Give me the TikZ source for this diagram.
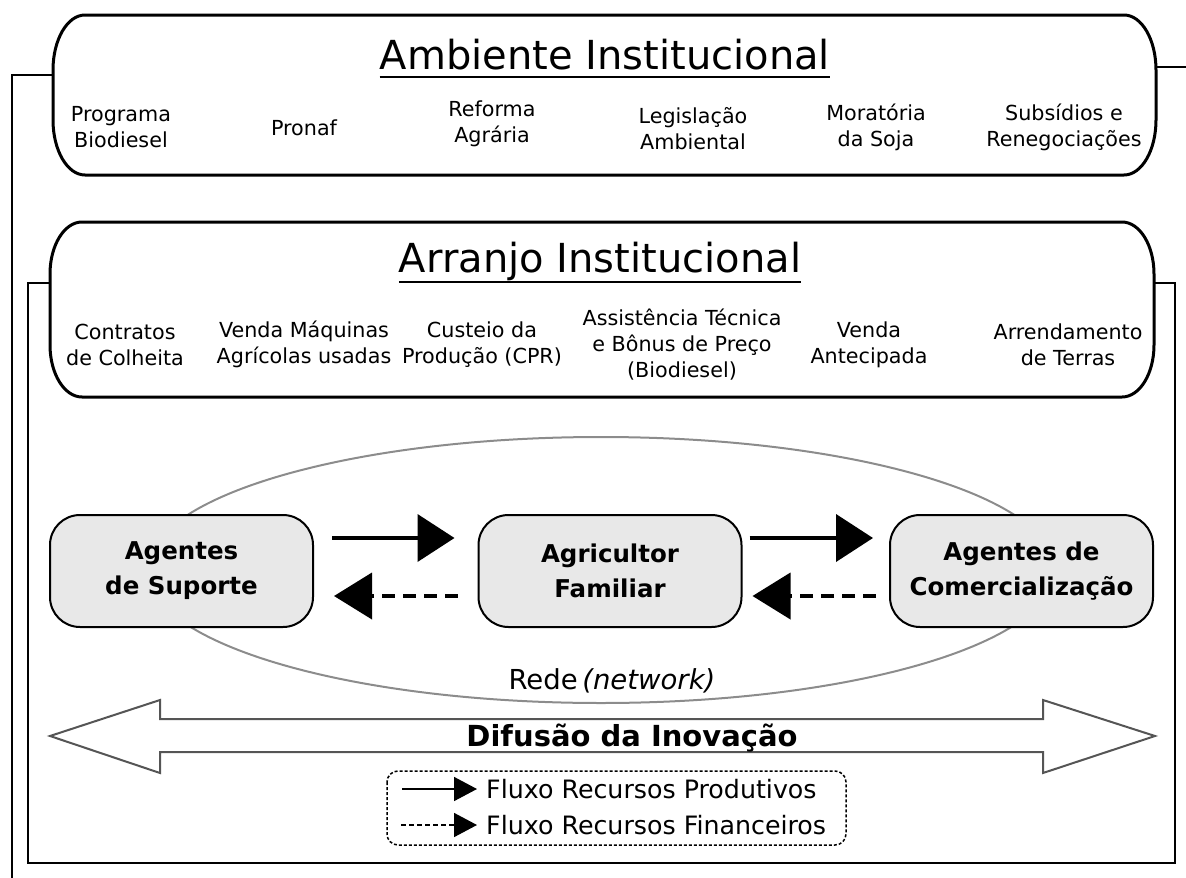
\documentclass[tikz,border=0pt]{standalone}
\usepackage{fontspec}
\setmainfont{DejaVu Sans}
\usetikzlibrary{arrows.meta}
\newcommand\mlines[1]{\begin{tabular}[t]{@{}c@{}}#1\end{tabular}}
\definecolor{agentfill}{HTML}{E8E8E8}
\definecolor{ellgray}{HTML}{8C8C8C}
\definecolor{arrgray}{HTML}{555555}
\begin{document}
\begin{tikzpicture}[x=1pt,y=-1pt,
  frame/.style={line width=2pt,black},
  bigbox/.style={line width=3pt,black,fill=white},
  titletext/.style={font=\fontsize{40}{48}\selectfont,anchor=base,inner sep=0pt},
  item/.style={font=\fontsize{20.7}{26}\selectfont,anchor=base,inner sep=0pt},
  agent/.style={draw=black,line width=2pt,fill=agentfill,rounded corners=30pt,
    minimum width=263pt,minimum height=112pt,align=center,
    font=\fontsize{24.5}{35}\selectfont\bfseries},
  flowsolid/.style={line width=4pt,-{Triangle[length=37pt,width=47pt]}},
  flowdash/.style={line width=4pt,dash pattern=on 13pt off 8pt,-{Triangle[length=38pt,width=46pt]}},
  legsolid/.style={line width=1.6pt,-{Triangle[length=23pt,width=24pt]}},
  legdash/.style={line width=1.6pt,dash pattern=on 5pt off 3pt,-{Triangle[length=23pt,width=24pt]}},
  legtext/.style={font=\fontsize{25.3}{30}\selectfont,anchor=base west,inner sep=0pt}
]
\useasboundingbox (0,0) rectangle (1186,878);

% outer frame (Ambiente)
\draw[frame] (53,75) -- (12,75) -- (12,885);
\draw[frame] (1156,67) -- (1192,67);
% inner frame (Arranjo)
\draw[frame] (28,283) rectangle (1175,863);

% Ambiente Institucional box
\draw[bigbox] (85,15) -- (1124,15)
  arc[start angle=90,end angle=0,x radius=32pt,y radius=55pt] -- (1156,120)
  arc[start angle=0,end angle=-90,x radius=32pt,y radius=55pt] -- (85,175)
  arc[start angle=270,end angle=180,x radius=32pt,y radius=55pt] -- (53,70)
  arc[start angle=180,end angle=90,x radius=32pt,y radius=55pt] -- cycle;

% Arranjo Institucional box
\draw[bigbox] (82,222) -- (1122,222)
  arc[start angle=90,end angle=0,x radius=32pt,y radius=52pt] -- (1154,345)
  arc[start angle=0,end angle=-90,x radius=32pt,y radius=52pt] -- (82,397)
  arc[start angle=270,end angle=180,x radius=32pt,y radius=52pt] -- (50,274)
  arc[start angle=180,end angle=90,x radius=32pt,y radius=52pt] -- cycle;

% titles
\node[titletext] (amb) at (605,69) {Ambiente Institucional};
\draw[line width=2pt] ([yshift=-8pt]amb.base west) -- ([yshift=-8pt]amb.base east);
\node[titletext] (arr) at (600,272) {Arranjo Institucional};
\draw[line width=2pt] ([yshift=-10pt]arr.base west) -- ([yshift=-10pt]arr.base east);

% Ambiente items
\node[item] (a1) at (121,121) {\mlines{Programa\\Biodiesel}};
\node[item] (a2) at (304,135) {Pronaf};
\node[item] (a3) at (492,116) {\mlines{Reforma\\Agrária}};
\node[item] (a4) at (693,123) {\mlines{Legislação\\Ambiental}};
\node[item] (a5) at (876,120) {\mlines{Moratória\\da Soja}};
\node[item] (a6) at (1064,120) {\mlines{Subsídios e\\Renegociações}};

% Arranjo items
\node[item] (b1) at (125,339) {\mlines{Contratos\\de Colheita}};
\node[item] (b2) at (304,337) {\mlines{Venda Máquinas\\Agrícolas usadas}};
\node[item] (b3) at (482,337) {\mlines{Custeio da\\Produção (CPR)}};
\node[item] (b4) at (682,325) {\mlines{Assistência Técnica\\e Bônus de Preço\\(Biodiesel)}};
\node[item] (b5) at (869,337) {\mlines{Venda\\Antecipada}};
\node[item] (b6) at (1068,339) {\mlines{Arrendamento\\de Terras}};

% network ellipse
\draw[ellgray,line width=2pt] (601,570) ellipse[x radius=454pt,y radius=133pt];

% agents
\node[agent] (sup) at (181.5,571) {Agentes\\de Suporte};
\node[agent] (agr) at (610,571) {Agricultor\\Familiar};
\node[agent] (com) at (1021.5,571) {Agentes de\\Comercialização};

% flows
\draw[flowsolid] ([xshift=18pt,yshift=33pt]sup.east) -- ([xshift=-23pt,yshift=33pt]agr.west);
\draw[flowdash] ([xshift=-20pt,yshift=-25pt]agr.west) -- ([xshift=20pt,yshift=-25pt]sup.east);
\draw[flowsolid] ([xshift=7pt,yshift=33pt]agr.east) -- ([xshift=-16pt,yshift=33pt]com.west);
\draw[flowdash] ([xshift=-13pt,yshift=-25pt]com.west) -- ([xshift=10pt,yshift=-25pt]agr.east);

% Rede (network)
\node[font=\fontsize{27.5}{32}\selectfont,anchor=base,inner sep=0pt] (rede) at (612,689) {Rede\,\textit{(network)}};

% diffusion double arrow
\draw[arrgray,line width=2pt,fill=white] (50,736) -- (160,700) -- (160,719) -- (1043,719) -- (1043,700)
  -- (1155,736) -- (1043,773) -- (1043,752) -- (160,752) -- (160,773) -- cycle;
\node[font=\fontsize{29}{33}\selectfont\bfseries,anchor=base,inner sep=0pt] (dif) at (632,746) {Difusão da Inovação};

% legend
\draw[line width=1.5pt,dash pattern=on 3pt off 2pt,rounded corners=11pt] (387,771) rectangle (846,845);
\coordinate (l1s) at (402,789);
\coordinate (l1e) at (477,789);
\coordinate (l2s) at (401,825);
\coordinate (l2e) at (477,825);
\draw[legsolid] (l1s) -- (l1e);
\draw[legdash] (l2s) -- (l2e);
\node[legtext] (lt1) at (486,798) {Fluxo Recursos Produtivos};
\node[legtext] (lt2) at (486,834) {Fluxo Recursos Financeiros};
\end{tikzpicture}
\end{document}
